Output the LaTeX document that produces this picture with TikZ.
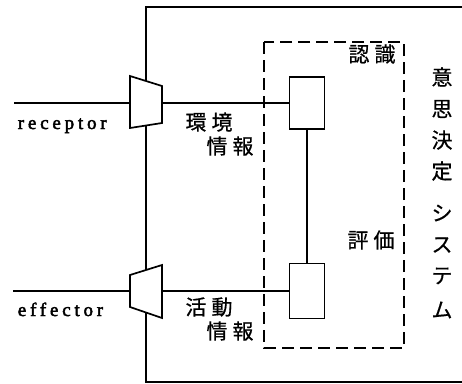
\documentclass[tikz,border=0pt]{standalone}
\usepackage{fontspec}
\setmainfont{Liberation Serif}
\newfontfamily\jp[FakeBold=0.6]{Noto Sans CJK JP}
\newfontfamily\lat[LetterSpace=20,FakeBold=2.5]{Liberation Serif}
\begin{document}
\begin{tikzpicture}[x=1pt,y=-1pt,line width=1.7pt,
  lbl/.style={font=\jp\fontsize{21}{21}\selectfont,inner sep=0pt},
  eng/.style={font=\lat\fontsize{19}{19}\selectfont,inner sep=0pt,anchor=base west},
  unit/.style={draw,fill=white,minimum width=35pt,minimum height=52pt,inner sep=0pt},
  trap/.style={draw,fill=white,line join=miter},
  dbox/.style={dash pattern=on 12pt off 6pt}]
\useasboundingbox (0,0) rectangle (462,383);
% outer system box (cut at right)
\draw (462,7) -- (146,7) -- (146,382) -- (462,382);
% dashed recognition/evaluation box
\draw[dbox] (264,42) rectangle (404,348);
% units
\node[unit] (u1) at (307,103) {};
\node[unit,minimum height=55pt] (u2) at (307,291) {};
\draw (u1) -- (u2);
% receptor
\coordinate (rin) at (14,103);
\coordinate (rL) at (130,103);
\coordinate (rR) at (162,103);
\draw[trap] (130,76) -- (162,86) -- (162,123) -- (130,128) -- cycle;
\draw (rin) -- (rL);
\draw (rR) -- (u1.west);
% effector
\coordinate (ein) at (13,291);
\coordinate (eL) at (130,291);
\coordinate (eR) at (162,291);
\draw[trap] (130,275) -- (162,265) -- (162,318) -- (130,307) -- cycle;
\draw (ein) -- (eL);
\draw (eR) -- (u2.west);
% labels
\node[eng] (rec) at (17,129) {receptor};
\node[eng] (eff) at (17,316) {effector};
\node[lbl] (kk1) at (209,122) {環\hspace{5pt}境};
\node[lbl] (jh1) at (230,146) {情\hspace{5pt}報};
\node[lbl] (kd) at (209,307) {活\hspace{5pt}動};
\node[lbl] (jh2) at (230,331) {情\hspace{5pt}報};
\node[lbl] (nin) at (372,54) {認\hspace{5pt}識};
\node[lbl] (hyo) at (371,240) {評\hspace{5pt}価};
\node[lbl] (v1) at (442,77) {意};
\node[lbl] (v2) at (442,109) {思};
\node[lbl] (v3) at (442,140) {決};
\node[lbl] (v4) at (442,171) {定};
\node[lbl] (v5) at (442,213) {シ};
\node[lbl] (v6) at (442,245) {ス};
\node[lbl] (v7) at (442,276) {テ};
\node[lbl] (v8) at (442,310) {ム};
\end{tikzpicture}
\end{document}
